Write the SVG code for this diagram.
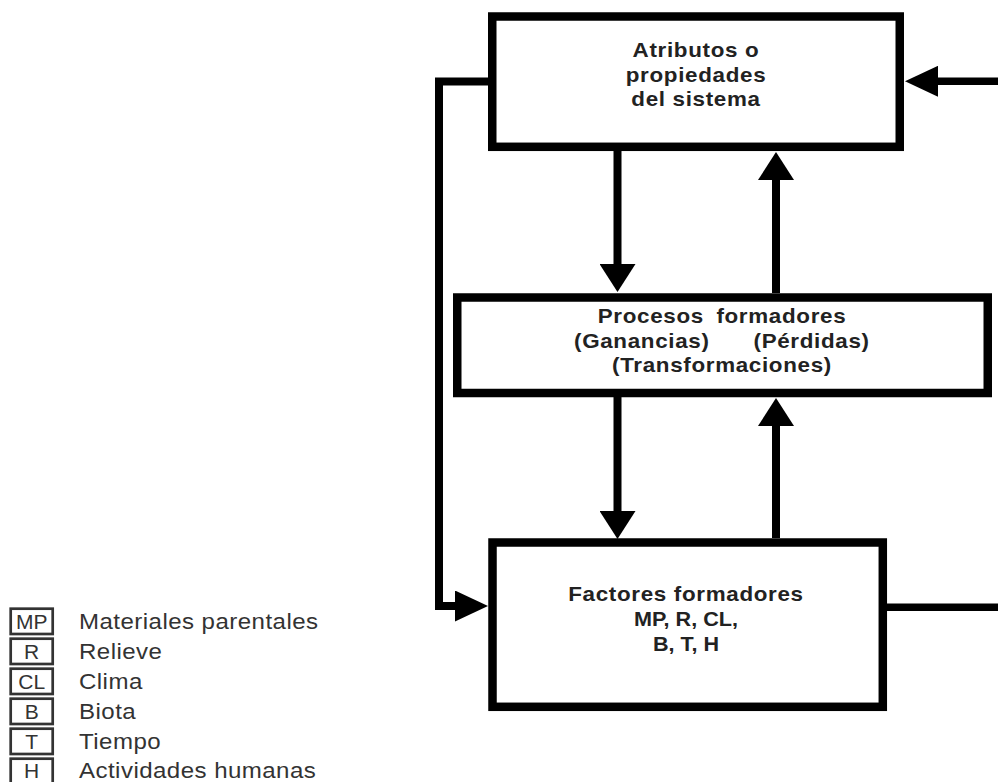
<svg xmlns="http://www.w3.org/2000/svg" width="998" height="782" viewBox="0 0 998 782">
  <style>
    .box { fill: #fff; stroke: #000; stroke-width: 8.5; }
    .lbl { font-family: "Liberation Sans", Arial, sans-serif; font-weight: bold; font-size: 20px; letter-spacing: 0.6px; fill: #222; text-anchor: middle; }
    .tight { letter-spacing: 0px; }
    .wide-gap { word-spacing: 5px; }
    .start { text-anchor: start; }
    .wire { fill: none; stroke: #000; stroke-width: 8; stroke-linejoin: miter; }
    .wire-h { fill: none; stroke: #000; stroke-width: 7.4; }
    .key { fill: #fff; stroke: #333; stroke-width: 2.7; }
    .keyabbr { font-family: "Liberation Sans", Arial, sans-serif; font-size: 21px; fill: #333; text-anchor: middle; }
    .keytxt { font-family: "Liberation Sans", Arial, sans-serif; font-size: 21.5px; letter-spacing: 0.4px; fill: #333; }
  </style>
  <defs>
    <!-- vertical arrowheads: 36 wide, 27 long -->
    <marker id="head-v" markerUnits="userSpaceOnUse" viewBox="0 0 28 36" markerWidth="28" markerHeight="36" refX="1" refY="18" orient="auto">
      <path d="M0,0 L28,18 L0,36 Z" fill="#000"/>
    </marker>
    <!-- horizontal arrowheads: 31 wide, 33 long -->
    <marker id="head-h" markerUnits="userSpaceOnUse" viewBox="0 0 33 31" markerWidth="33" markerHeight="31" refX="1" refY="15.5" orient="auto">
      <path d="M0,0 L33,15.5 L0,31 Z" fill="#000"/>
    </marker>
  </defs>

  <rect width="998" height="782" fill="#fff"/>

  <!-- connectors -->
  <g id="connectors">
    <!-- atributos -> procesos -->
    <line class="wire" x1="617.5" y1="151" x2="617.5" y2="265" marker-end="url(#head-v)"/>
    <!-- procesos -> atributos -->
    <line class="wire" x1="776" y1="293" x2="776" y2="179" marker-end="url(#head-v)"/>
    <!-- procesos -> factores -->
    <line class="wire" x1="617.5" y1="397" x2="617.5" y2="512" marker-end="url(#head-v)"/>
    <!-- factores -> procesos -->
    <line class="wire" x1="776" y1="538" x2="776" y2="425" marker-end="url(#head-v)"/>
    <!-- feedback loop on the left: atributos -> factores -->
    <path class="wire" d="M488,81.5 H439 V606 H456" marker-end="url(#head-h)"/>
    <!-- feedback loop on the right: factores -> atributos -->
    <line class="wire-h" x1="887" y1="607.3" x2="998" y2="607.3"/>
    <line class="wire-h" x1="998" y1="81.3" x2="937" y2="81.3" marker-end="url(#head-h)"/>
  </g>

  <!-- system attributes (labels drawn slightly widened) -->
  <g id="atributos">
    <rect class="box" x="492.25" y="16.5" width="407.5" height="130.3"/>
    <text class="lbl" transform="matrix(1.12 0 0 1 696 57.3)">Atributos o</text>
    <text class="lbl" transform="matrix(1.12 0 0 1 696 81.7)">propiedades</text>
    <text class="lbl" transform="matrix(1.12 0 0 1 696 106)">del sistema</text>
  </g>

  <!-- formation processes -->
  <g id="procesos">
    <rect class="box" x="457.25" y="297.5" width="530.5" height="95.5"/>
    <text class="lbl wide-gap" transform="matrix(1.12 0 0 1 722 322.5)">Procesos formadores</text>
    <text class="lbl start" transform="matrix(1.12 0 0 1 574 347.8)">(Ganancias)</text>
    <text class="lbl start" transform="matrix(1.12 0 0 1 753.5 347.8)">(Pérdidas)</text>
    <text class="lbl" transform="matrix(1.12 0 0 1 722 372)">(Transformaciones)</text>
  </g>

  <!-- formation factors -->
  <g id="factores">
    <rect class="box" x="492.5" y="542.5" width="390.3" height="164.3"/>
    <text class="lbl" transform="matrix(1.12 0 0 1 686 601)">Factores formadores</text>
    <text class="lbl tight" transform="matrix(1.08 0 0 1 686 626)">MP, R, CL,</text>
    <text class="lbl tight" transform="matrix(1.08 0 0 1 686 650.7)">B, T, H</text>
  </g>

  <!-- key of abbreviations -->
  <g id="leyenda">
    <g id="key-mp">
      <rect class="key" x="10.7" y="608.7" width="42" height="25.3"/>
      <text class="keyabbr" x="31.7" y="629">MP</text>
      <text class="keytxt" transform="matrix(1.12 0 0 1 79 629)">Materiales parentales</text>
    </g>
    <g id="key-r">
      <rect class="key" x="10.7" y="638.7" width="42" height="25.3"/>
      <text class="keyabbr" x="31.7" y="659">R</text>
      <text class="keytxt" transform="matrix(1.12 0 0 1 79 659)">Relieve</text>
    </g>
    <g id="key-cl">
      <rect class="key" x="10.7" y="668.7" width="42" height="25.3"/>
      <text class="keyabbr" x="31.7" y="689">CL</text>
      <text class="keytxt" transform="matrix(1.12 0 0 1 79 689)">Clima</text>
    </g>
    <g id="key-b">
      <rect class="key" x="10.7" y="698.7" width="42" height="25.3"/>
      <text class="keyabbr" x="31.7" y="719">B</text>
      <text class="keytxt" transform="matrix(1.12 0 0 1 79 719)">Biota</text>
    </g>
    <g id="key-t">
      <rect class="key" x="10.7" y="728.7" width="42" height="25.3"/>
      <text class="keyabbr" x="31.7" y="749">T</text>
      <text class="keytxt" transform="matrix(1.12 0 0 1 79 749)">Tiempo</text>
    </g>
    <g id="key-h">
      <rect class="key" x="10.7" y="758.7" width="42" height="25.3"/>
      <text class="keyabbr" x="31.7" y="778">H</text>
      <text class="keytxt" transform="matrix(1.12 0 0 1 79 778)">Actividades humanas</text>
    </g>
  </g>
</svg>
